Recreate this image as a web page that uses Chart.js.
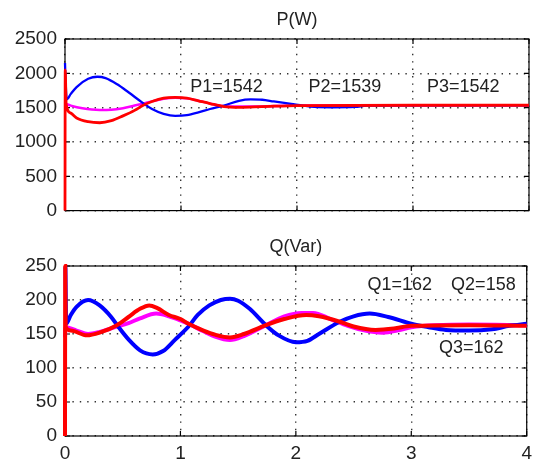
<!DOCTYPE html>
<html>
<head>
<meta charset="utf-8">
<script src="https://cdn.jsdelivr.net/npm/chart.js@4/dist/chart.umd.min.js"></script>
<style>
  body { margin: 0; background: #fff; }
  #wrap { position: relative; width: 538px; height: 462px; }
  canvas { position: absolute; left: 0; }
  #top { top: 0; }
  #bottom { top: 230px; }
</style>
</head>
<body>
<div id="wrap">
  <canvas id="top" width="538" height="230"></canvas>
  <canvas id="bottom" width="538" height="232"></canvas>
</div>
<script>
// ---- P(W) ----
var pTitle = 'P(W)'
var pTicks = [0, 500, 1000, 1500, 2000, 2500]
var pBlueT = [0, 0.005, 0.015, 0.05, 0.1, 0.2, 0.28, 0.35, 0.45, 0.55, 0.67, 0.75, 0.85, 0.95, 1.05, 1.15, 1.25, 1.37, 1.5, 1.6, 1.7, 1.8, 1.95, 2.05, 2.15, 2.3, 2.5, 2.6, 3, 4]
var pBlue  = [2150, 1900, 1620, 1700, 1800, 1920, 1950, 1930, 1840, 1720, 1570, 1480, 1410, 1380, 1390, 1430, 1480, 1530, 1600, 1620, 1615, 1590, 1555, 1530, 1510, 1505, 1510, 1530, 1535, 1535]
var pMagT  = [0, 0.05, 0.15, 0.3, 0.4, 0.5, 0.6, 0.7, 0.85, 0.95, 1.05, 1.2, 1.37, 1.6, 2, 4]
var pMag   = [1560, 1530, 1490, 1465, 1468, 1490, 1530, 1570, 1630, 1645, 1635, 1580, 1520, 1515, 1532, 1535]
var pRedT  = [0, 0.002, 0.01, 0.05, 0.1, 0.2, 0.3, 0.4, 0.5, 0.6, 0.67, 0.75, 0.85, 0.95, 1.05, 1.15, 1.25, 1.37, 1.5, 1.7, 2, 3, 4]
var pRed   = [0, 2050, 1550, 1420, 1350, 1295, 1280, 1310, 1380, 1460, 1530, 1590, 1640, 1650, 1640, 1600, 1560, 1516, 1505, 1515, 1530, 1535, 1535]
var pNotes = [['P1=1542', 1.08, 1800], ['P2=1539', 2.10, 1800], ['P3=1542', 3.12, 1800]]

// ---- Q(Var) ----
var qTitle = 'Q(Var)'
var qTicks = [0, 50, 100, 150, 200, 250]
var qBlueT = [0, 0.003, 0.01, 0.05, 0.1, 0.2, 0.3, 0.4, 0.46, 0.55, 0.65, 0.76, 0.85, 0.95, 1.07, 1.15, 1.25, 1.35, 1.43, 1.5, 1.6, 1.74, 1.85, 2.0, 2.1, 2.2, 2.38, 2.5, 2.64, 2.8, 3.0, 3.15, 3.3, 3.5, 3.7, 3.85, 4]
var qBlue  = [250, 250, 165, 178, 190, 200, 192, 175, 161, 142, 126, 120, 125, 141, 161, 178, 192, 200, 202, 199, 187, 163, 148, 138, 140, 150, 168, 176, 180, 175, 165, 160, 156, 155, 157, 162, 165]
var qMagT  = [0, 0.005, 0.1, 0.2, 0.3, 0.45, 0.55, 0.65, 0.79, 0.9, 1.0, 1.07, 1.2, 1.3, 1.43, 1.55, 1.74, 1.9, 2.05, 2.15, 2.3, 2.45, 2.6, 2.75, 2.9, 3.0, 3.5, 4]
var qMag   = [145, 160, 155, 150, 153, 161, 166, 173, 180, 176, 170, 165, 154, 146, 141, 147, 163, 176, 181, 181, 172, 162, 155, 152, 156, 160, 164, 163]
var qRedT  = [0, 0.002, 0.006, 0.05, 0.19, 0.3, 0.45, 0.55, 0.65, 0.73, 0.8, 0.9, 1.0, 1.07, 1.2, 1.3, 1.43, 1.55, 1.74, 1.9, 2.09, 2.2, 2.38, 2.5, 2.69, 2.85, 3.0, 3.5, 4]
var qRed   = [0, 250, 160, 155, 148, 152, 163, 175, 187, 192, 188, 178, 172, 165, 155, 149, 145, 150, 163, 172, 178, 176, 168, 161, 156, 158, 162, 163, 162]
var qNotes = [['Q1=162', 2.62, 222], ['Q2=158', 3.345, 222], ['Q3=162', 3.24, 129]]

var xTicks = [0, 1, 2, 3, 4]
var FONT = '"Liberation Sans", Arial, sans-serif'

function pts(t, v) {
    return t.map((x, i) => ({ x: x, y: v[i] }))
}

// matlab-like box, inward ticks, title and text notes
var matlabBox = {
    id: 'matlabBox',
    beforeDatasetsDraw(chart) {
        var a = chart.chartArea, ctx = chart.ctx
        var xs = chart.scales.x, ys = chart.scales.y
        ctx.save()
        ctx.strokeStyle = '#000'
        ctx.lineWidth = 1.2
        ctx.strokeRect(a.left, a.top, a.right - a.left, a.bottom - a.top)
        ctx.beginPath()
        xTicks.forEach(t => {
            var px = xs.getPixelForValue(t)
            ctx.moveTo(px, a.bottom); ctx.lineTo(px, a.bottom - 5)
            ctx.moveTo(px, a.top); ctx.lineTo(px, a.top + 5)
        })
        chart.options.plugins.matlabBox.yTicks.forEach(v => {
            var py = ys.getPixelForValue(v)
            ctx.moveTo(a.left, py); ctx.lineTo(a.left + 5, py)
            ctx.moveTo(a.right, py); ctx.lineTo(a.right - 5, py)
        })
        ctx.stroke()
        ctx.restore()
    },
    afterDraw(chart) {
        var o = chart.options.plugins.matlabBox
        var a = chart.chartArea, ctx = chart.ctx
        var xs = chart.scales.x, ys = chart.scales.y
        ctx.save()
        ctx.fillStyle = '#222'
        ctx.font = '18px ' + FONT
        ctx.textBaseline = 'middle'
        ctx.textAlign = 'center'
        ctx.fillText(o.title, (a.left + a.right) / 2, o.titleY)
        ctx.textAlign = 'left'
        o.notes.forEach(n => {
            ctx.fillText(n[0], xs.getPixelForValue(n[1]), ys.getPixelForValue(n[2]))
        })
        ctx.restore()
    }
}

function makeChart(id, sets, yTicks, title, titleY, notes, showX, padTop, xHeight) {
    var ymax = yTicks[yTicks.length - 1]
    return new Chart(document.getElementById(id).getContext('2d'), {
        type: 'line',
        data: {
            datasets: sets.map(s => ({
                data: s.data,
                borderColor: s.color,
                borderWidth: s.width,
                pointRadius: 0,
                fill: false,
                clip: 4,
                cubicInterpolationMode: 'monotone',
                order: s.order
            }))
        },
        options: {
            responsive: false,
            animation: false,
            devicePixelRatio: 1,
            layout: { padding: { top: padTop, right: 9, left: 0, bottom: 0 } },
            plugins: {
                legend: { display: false },
                tooltip: { enabled: false },
                matlabBox: { title: title, titleY: titleY, notes: notes, yTicks: yTicks }
            },
            scales: {
                x: {
                    type: 'linear', min: 0, max: 4,
                    afterBuildTicks(axis) { axis.ticks = xTicks.map(v => ({ value: v })) },
                    afterFit(axis) { axis.height = xHeight },
                    ticks: { display: showX, color: '#222', padding: 6, font: { family: FONT, size: 19 },
                        callback: v => String(v) },
                    grid: { color: '#333', lineWidth: 1.4, drawTicks: false },
                    border: { display: false, dash: [1.4, 6] }
                },
                y: {
                    min: 0, max: ymax,
                    afterBuildTicks(axis) { axis.ticks = yTicks.map(v => ({ value: v })) },
                    afterFit(axis) { axis.width = 65 },
                    ticks: { color: '#222', padding: 8, font: { family: FONT, size: 19 },
                        callback: v => String(v) },
                    grid: { color: '#333', lineWidth: 1.4, drawTicks: false },
                    border: { display: false, dash: [1.4, 6] }
                }
            }
        },
        plugins: [matlabBox]
    })
}

makeChart('top', [
    { data: pts(pMagT, pMag), color: '#ff00ff', width: 2.5, order: 3 },
    { data: pts(pBlueT, pBlue), color: '#0000ff', width: 2.3, order: 2 },
    { data: pts(pRedT, pRed), color: '#ff0000', width: 2.8, order: 1 }
], pTicks, pTitle, 20, pNotes, false, 39, 19)

makeChart('bottom', [
    { data: pts(qMagT, qMag), color: '#ff00ff', width: 4, order: 3 },
    { data: pts(qBlueT, qBlue), color: '#0000ff', width: 4, order: 2 },
    { data: pts(qRedT, qRed), color: '#ff0000', width: 4, order: 1 }
], qTicks, qTitle, 17, qNotes, true, 36, 26)
</script>
</body>
</html>
